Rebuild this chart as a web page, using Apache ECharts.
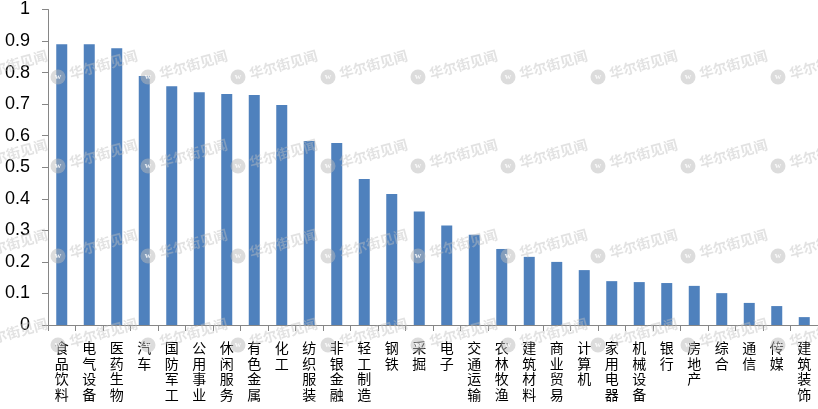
<!DOCTYPE html>
<html>
<head>
<meta charset="utf-8">
<script src="https://cdn.jsdelivr.net/npm/echarts@6/dist/echarts.min.js"></script>
<style>html,body{margin:0;padding:0;background:#fff}#c{width:818px;height:409px}</style>
</head>
<body>
<div id="c"></div>
<script>
var categories = ["食品饮料","电气设备","医药生物","汽车","国防军工","公用事业","休闲服务","有色金属","化工","纺织服装","非银金融","轻工制造","钢铁","采掘","电子","交通运输","农林牧渔","建筑材料","商业贸易","计算机","家用电器","机械设备","银行","房地产","综合","通信","传媒","建筑装饰"];
var values = [0.890,0.890,0.877,0.789,0.757,0.738,0.732,0.729,0.697,0.583,0.577,0.463,0.415,0.360,0.315,0.286,0.241,0.216,0.200,0.174,0.139,0.136,0.133,0.124,0.101,0.070,0.060,0.025];
var yTicks = ["0","0.1","0.2","0.3","0.4","0.5","0.6","0.7","0.8","0.9","1"];
var watermarkText = "华尔街见闻";

var chart = echarts.init(document.getElementById('c'), null, {renderer:'canvas'});

var wmCols = [-32, 58, 148, 238, 328, 418, 508, 598, 688, 778];
var wmRows = [-12, 77, 166, 256, 345];
var ang = 0.27;
var graphics = [];
wmRows.forEach(function(y){
  wmCols.forEach(function(x){
    graphics.push({type:'circle', z:100, silent:true, shape:{cx:x, cy:y, r:7.5}, style:{fill:'rgba(185,185,185,0.5)'}});
    graphics.push({type:'text', z:101, silent:true, x:x, y:y, style:{text:'w', fill:'rgba(255,255,255,0.85)', font:'bold 9px "Liberation Serif"', align:'center', verticalAlign:'middle'}});
    graphics.push({type:'text', z:100, silent:true, x:x, y:y, rotation:ang, originX:0, originY:0,
      style:{text:watermarkText, x:12, y:0, fill:'rgba(190,190,190,0.45)', font:'bold 14px "Noto Sans CJK SC"', align:'left', verticalAlign:'middle'}});
  });
});

chart.setOption({
  animation:false,
  backgroundColor:'#ffffff',
  grid:{left:48, top:9.5, width:772, height:315.5, containLabel:false},
  xAxis:{
    type:'category', data:categories,
    axisLine:{lineStyle:{color:'#868686', width:1}},
    axisTick:{show:true, length:6, alignWithLabel:false, lineStyle:{color:'#868686'}},
    axisLabel:{interval:0, margin:15, color:'#000', fontSize:14, lineHeight:15.5,
      fontFamily:'"Noto Sans CJK SC"', verticalAlign:'top',
      formatter:function(v){ return v.split('').join('\n'); }},
    splitLine:{show:false}
  },
  yAxis:{
    type:'value', min:0, max:1, interval:0.1,
    axisLine:{show:true, lineStyle:{color:'#868686', width:1}},
    axisTick:{show:true, length:6, lineStyle:{color:'#868686'}},
    axisLabel:{margin:18, color:'#000', fontSize:18, fontFamily:'"Liberation Sans"',
      formatter:function(v){ return yTicks[Math.round(v*10)]; }},
    splitLine:{show:false}
  },
  series:[{
    type:'bar', data:values, barWidth:11,
    itemStyle:{color:'#4F81BD'}
  }],
  graphic:graphics
});
</script>
</body>
</html>
